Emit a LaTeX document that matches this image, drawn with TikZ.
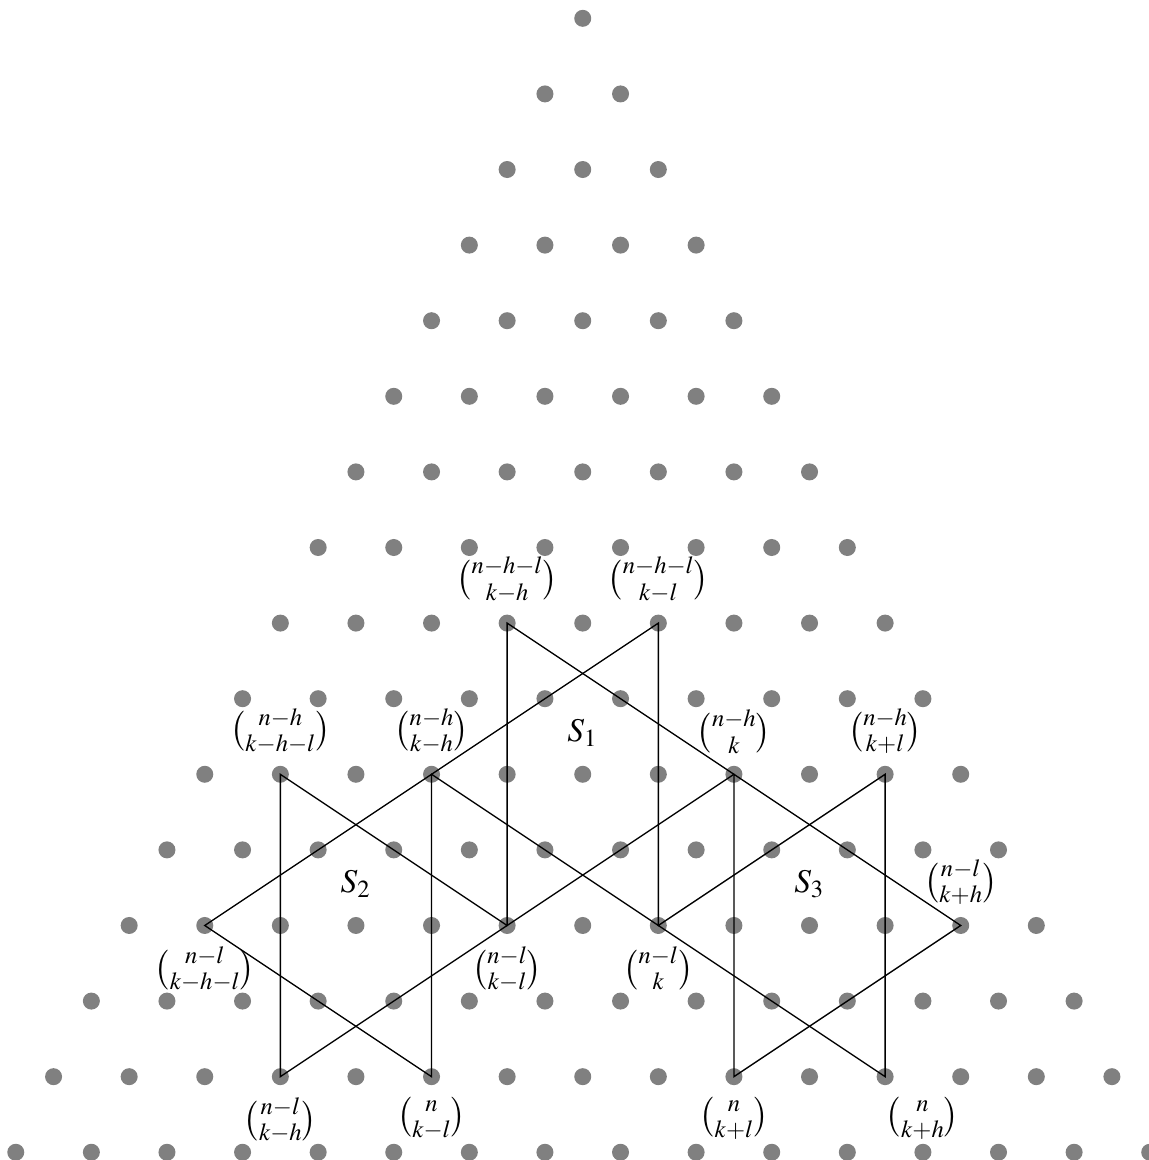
\documentclass[tikz,border=0pt]{standalone}
\usepackage{amsmath}
\usepackage{mathptmx}
\begin{document}
\begin{tikzpicture}[x=0.8cm,y=0.8cm,
  dot/.style={circle,fill=gray,inner sep=0pt,minimum size=0.18cm},
  edge/.style={black,line width=0.4pt},
  lab/.style={inner sep=3.33pt}]
\useasboundingbox (-6.167cm,-12.082cm) rectangle (5.992cm,0.194cm);
\foreach \r in {0,...,15}{
  \foreach \j in {0,...,\r}{
    \node[dot] (d-\r-\j) at ({\j-\r/2},{-\r}) {};
  }
}
% hexagram S1
\draw[edge] (d-8-3.center) -- (d-12-5.center) -- (d-10-7.center) -- cycle;
\draw[edge] (d-8-5.center) -- (d-12-7.center) -- (d-10-3.center) -- cycle;
% hexagram S2
\draw[edge] (d-10-1.center) -- (d-14-3.center) -- (d-12-5.center) -- cycle;
\draw[edge] (d-10-3.center) -- (d-14-5.center) -- (d-12-1.center) -- cycle;
% hexagram S3
\draw[edge] (d-10-7.center) -- (d-14-9.center) -- (d-12-11.center) -- cycle;
\draw[edge] (d-10-9.center) -- (d-14-11.center) -- (d-12-7.center) -- cycle;
% labels above
\node[lab,above] (a1) at (d-8-3.north) {$\binom{n-h-l}{k-h}$};
\node[lab,above] (a2) at (d-8-5.north) {$\binom{n-h-l}{k-l}$};
\node[lab,above] (a3) at (d-10-1.north) {$\binom{n-h}{k-h-l}$};
\node[lab,above] (a4) at (d-10-3.north) {$\binom{n-h}{k-h}$};
\node[lab,above] (a5) at (d-10-7.north) {$\binom{n-h}{k}$};
\node[lab,above] (a6) at (d-10-9.north) {$\binom{n-h}{k+l}$};
\node[lab,above] (a7) at (d-12-11.north) {$\binom{n-l}{k+h}$};
% labels below
\node[lab,below] (b1) at (d-12-1.south) {$\binom{n-l}{k-h-l}$};
\node[lab,below] (b2) at (d-12-5.south) {$\binom{n-l}{k-l}$};
\node[lab,below] (b3) at (d-12-7.south) {$\binom{n-l}{k}$};
\node[lab,below] (b4) at (d-14-3.south) {$\binom{n-l}{k-h}$};
\node[lab,below] (b5) at (d-14-5.south) {$\binom{n}{k-l}$};
\node[lab,below] (b6) at (d-14-9.south) {$\binom{n}{k+l}$};
\node[lab,below,xshift=0.395cm] (b7) at (d-14-11.south) {$\binom{n}{k+h}$};
% hexagram names
\node[lab,above,yshift=2pt] (s1) at (d-10-5.north) {$S_1$};
\node[lab,above,yshift=2pt] (s2) at (d-12-3.north) {$S_2$};
\node[lab,above,yshift=2pt] (s3) at (d-12-9.north) {$S_3$};
\end{tikzpicture}
\end{document}
